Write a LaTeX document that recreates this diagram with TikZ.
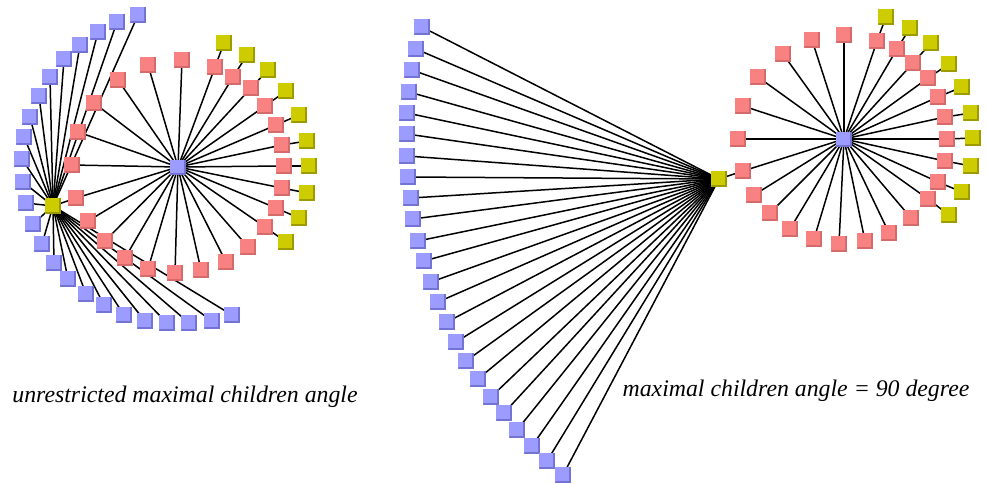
\documentclass[tikz,border=0pt]{standalone}
\usepackage{fontspec}
\setmainfont{Liberation Serif}
\usetikzlibrary{backgrounds}
\definecolor{bluefill}{HTML}{9C9CFF}
\definecolor{bluedark}{HTML}{7373D6}
\definecolor{redfill}{HTML}{F88282}
\definecolor{reddark}{HTML}{D46A6A}
\definecolor{yelfill}{HTML}{CCCC00}
\definecolor{yeldark}{HTML}{9C9C00}
\tikzset{
  sq/.style={minimum width=15.5pt, minimum height=15.5pt, inner sep=0pt, outer sep=0pt,
    fill=#1fill, path picture={\draw[line width=2pt,#1dark]
      ([xshift=-1pt]path picture bounding box.north east) --
      ([xshift=-1pt,yshift=1pt]path picture bounding box.south east) --
      ([yshift=1pt]path picture bounding box.south west);}},
  bsq/.style={sq=blue},
  rsq/.style={sq=red},
  ysq/.style={sq=yel},
  hub/.style={minimum width=16.5pt, minimum height=15pt},
  link/.style={draw=black, line width=1.5pt},
  caption/.style={font=\fontsize{23.8}{27}\selectfont\itshape, anchor=base, inner sep=0pt}
}
\begin{document}
\begin{tikzpicture}[x=1pt,y=-1pt]
\useasboundingbox (0,0) rectangle (986,483);
% ---------------- left tree ----------------
\node[bsq,hub] (lc) at (178,167) {};
\foreach \x/\y [count=\i] in {148/65,182/60,215/67,233/77,251/88,265/106,276/125,282/145,284/166,282/188,276/208,265/227,248/247,226/262,201/270,175/273,148/269,125/258,105/241,88/221,76/198,72/165,78/132,94/103,118/80}
  \node[rsq] (lr\i) at (\x,\y) {};
\foreach \x/\y [count=\i] in {224/43,247/55,268/70,286/91,299/115,307/141,309/166,307/193,299/218,286/242}
  \node[ysq] (ly\i) at (\x,\y) {};
\node[ysq] (lroot) at (53,206) {};
\foreach \x/\y [count=\i] in {138/15,117/22,98/32,80/45,64/59,50/77,39/96,30/117,24/137,22/159,23/182,26/203,33/224,42/244,54/263,68/279,86/294,104/305,124/315,145/321,167/323,189/323,212/321,232/315}
  \node[bsq] (lb\i) at (\x,\y) {};
% ---------------- right tree ----------------
\node[bsq,hub] (rc) at (844,139) {};
\foreach \x/\y [count=\i] in {812/40,844/35,877/41,897/49,913/63,928/78,938/97,945/117,947/139,945/161,938/182,928/199,911/218,889/233,865/241,839/244,814/239,790/229,770/213,754/195,743/171,738/139,743/106,758/77,783/54}
  \node[rsq] (rr\i) at (\x,\y) {};
\foreach \x/\y [count=\i] in {886/17,910/28,931/43,949/64,962/87,971/113,973/138,971/166,962/192,949/215}
  \node[ysq] (ry\i) at (\x,\y) {};
\node[ysq] (rroot) at (719,179) {};
\foreach \x/\y [count=\i] in {422/27,416/49,412/70,409/92,407/113,407/134,407/156,408/177,411/198,413/219,418/241,424/261,431/282,438/302,447/322,456/342,466/361,478/379,491/397,504/413,517/430,532/446,547/461,563/475}
  \node[bsq] (rb\i) at (\x,\y) {};
% ---------------- edges ----------------
\begin{scope}[on background layer]
  \foreach \i in {1,...,25} {
    \draw[link] (lc.center) -- (lr\i.center);
    \draw[link] (rc.center) -- (rr\i.center);
  }
  \foreach \i [evaluate=\i as \j using int(\i+2)] in {1,...,10} {
    \draw[link] (lr\j.center) -- (ly\i.center);
    \draw[link] (rr\j.center) -- (ry\i.center);
  }
  \draw[link] (lr21.center) -- (lroot.center);
  \draw[link] (rr21.center) -- (rroot.center);
  \foreach \i in {1,...,24} {
    \draw[link] (lroot.center) -- (lb\i.center);
    \draw[link] (rroot.center) -- (rb\i.center);
  }
\end{scope}
% ---------------- captions ----------------
\node[caption] (capl) at (185,402) {unrestricted maximal children angle};
\node[caption] (capr) at (796,396) {maximal children angle = 90 degree};
\end{tikzpicture}
\end{document}
